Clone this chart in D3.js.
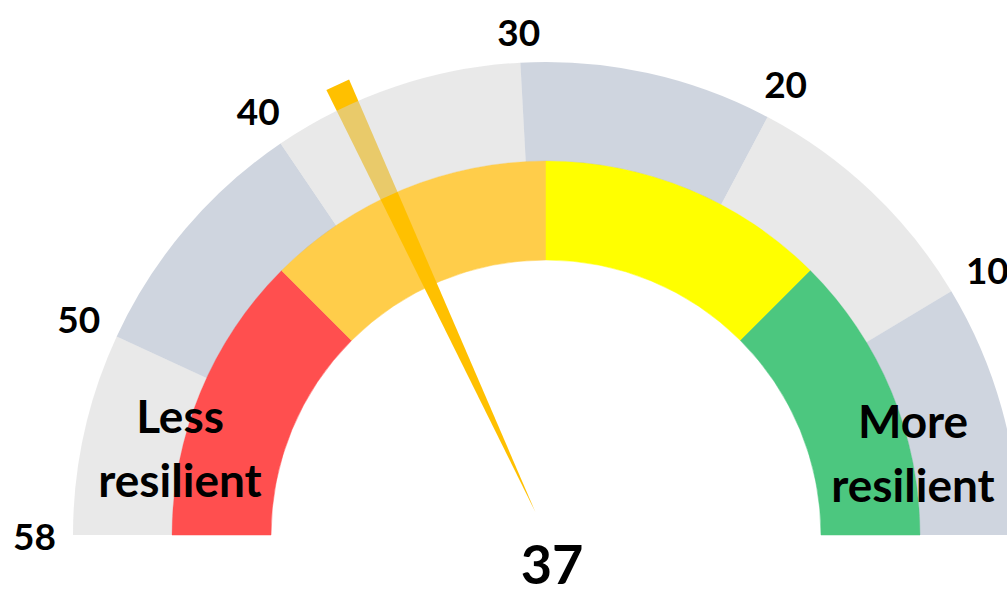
<!DOCTYPE html>
<html>
<head>
<meta charset="utf-8">
<script src="https://cdn.jsdelivr.net/npm/d3@7"></script>
<style>
  body { margin: 0; background: #fff; }
  svg { display: block; }
  text { font-family: Lato, "Open Sans", sans-serif; font-weight: 700; fill: #000; }
</style>
</head>
<body>
<svg id="canvas"></svg>
<script>
// scale runs from 58 (left) down to 0 (right)
const scaleDomain = [58, 0];
const tickValues = [58, 50, 40, 30, 20, 10];
const bandEdges = [58, 50, 40, 30, 20, 10, 0];
const bandColors = ["#d3d3d4", "#9fabbf", "#d3d3d4", "#9fabbf", "#d3d3d4", "#9fabbf"];
const zoneEdges = [58, 43.5, 29, 14.5, 0];
const zoneColors = ["#ff4f4f", "#ffcd4a", "#ffff00", "#4cc77f"];
const value = 37;
const leftLabel = ["Less", "resilient"];
const rightLabel = ["More", "resilient"];

const width = 1007;
const height = 589;
const cx = 546, cy = 535;
const rOuter = 473, rMid = 374, rInner = 275;

const svg = d3.select("#canvas")
    .attr("width", width)
    .attr("height", height);

const angle = d3.scaleLinear()
    .domain(scaleDomain)
    .range([-Math.PI / 2, Math.PI / 2]);

const g = svg.append("g")
    .attr("transform", `translate(${cx},${cy})`);

// inner coloured zones
const zoneArc = d3.arc().innerRadius(rInner).outerRadius(rMid);
g.selectAll(".zone")
    .data(zoneColors)
    .enter()
    .append("path")
    .attr("class", "zone")
    .attr("d", (d, i) => zoneArc({ startAngle: angle(zoneEdges[i]), endAngle: angle(zoneEdges[i + 1]) }))
    .attr("fill", d => d)
    .attr("stroke", d => d)
    .attr("stroke-width", 0.5);

// needle: wide end out past the ring, point near centre
const a = angle(value);
const ux = Math.sin(a), uy = -Math.cos(a);
const px = -uy, py = ux;
const needleOut = 496, needleIn = 25, halfW = 12.5;
const needlePts = [
    [ux * needleOut + px * halfW, uy * needleOut + py * halfW],
    [ux * needleOut - px * halfW, uy * needleOut - py * halfW],
    [ux * needleIn, uy * needleIn]
];
g.append("path")
    .attr("d", d3.line()(needlePts) + "Z")
    .attr("fill", "#ffc000");

// outer grey bands, half transparent so the needle shows through
const bandArc = d3.arc().innerRadius(rMid).outerRadius(rOuter);
g.selectAll(".band")
    .data(bandColors)
    .enter()
    .append("path")
    .attr("class", "band")
    .attr("d", (d, i) => bandArc({ startAngle: angle(bandEdges[i]), endAngle: angle(bandEdges[i + 1]) }))
    .attr("fill", d => d)
    .attr("fill-opacity", 0.5);

// tick labels around the outside
const fontSize = 37;
g.selectAll(".tick")
    .data(tickValues)
    .enter()
    .append("text")
    .attr("class", "tick")
    .attr("text-anchor", "middle")
    .attr("dominant-baseline", "central")
    .style("font-size", fontSize + "px")
    .text(d => d)
    .each(function (d) {
        const t = d3.select(this);
        const hw = this.getComputedTextLength() / 2;
        const hh = 13;
        const th = angle(d);
        const r = 490 + Math.abs(Math.sin(th)) * hw + Math.abs(Math.cos(th)) * hh;
        t.attr("x", Math.sin(th) * r).attr("y", -Math.cos(th) * r);
    });

// zone captions
const caption = (lines, x, y0) => {
    g.append("text")
        .attr("text-anchor", "middle")
        .style("font-size", "46px")
        .selectAll("tspan")
        .data(lines)
        .enter()
        .append("tspan")
        .attr("x", x)
        .attr("y", (d, i) => y0 + i * 64)
        .text(d => d);
};
caption(leftLabel, 180 - cx, 433 - cy);
caption(rightLabel, 913 - cx, 438 - cy);

// value readout
g.append("text")
    .attr("x", 552 - cx)
    .attr("y", 584 - cy)
    .attr("text-anchor", "middle")
    .style("font-size", "54px")
    .text(value);
</script>
</body>
</html>
